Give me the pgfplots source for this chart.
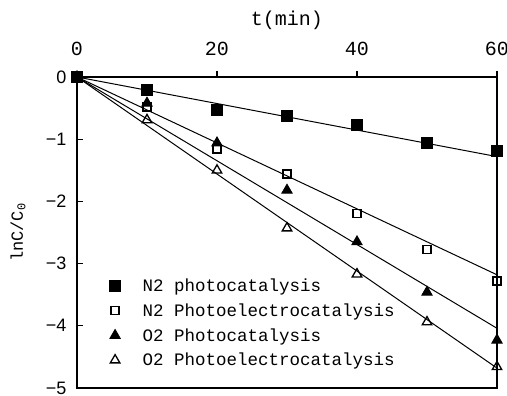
\documentclass[border=0pt]{standalone}
\usepackage{pgfplots}
\pgfplotsset{compat=1.18}
\usepackage{fontspec}
\newfontfamily\cour{Liberation Mono}
\newfontfamily\arial{Liberation Sans}
\begin{document}
\begin{tikzpicture}
\useasboundingbox (-77pt,-8pt) rectangle (430pt,388pt);
\begin{axis}[
  at={(0pt,0pt)}, anchor=south west,
  scale only axis, width=420pt, height=311pt,
  xmin=0, xmax=60, ymin=-5, ymax=0,
  xtick={0,20,40,60}, ytick={-5,-4,-3,-2,-1,0},
  yticklabels={−5,−4,−3,−2,−1,0},
  xtick pos=right, xticklabel pos=right,
  ytick pos=left, yticklabel pos=left,
  xtick align=outside, ytick align=inside,
  major tick length=6pt,
  axis line style={line width=1.6pt},
  every tick/.style={line width=1.2pt, black},
  /pgf/number format/assume math mode=true,
  xticklabel style={font=\cour\fontsize{20}{24}\selectfont, yshift=12pt},
  yticklabel style={font=\arial\fontsize{18}{22}\selectfont, xshift=-7pt},
  xlabel={t(min)},
  xlabel style={font=\cour\fontsize{20}{24}\selectfont, at={(axis description cs:0.5,1)}, anchor=center, yshift=57pt},
  ylabel={lnC/C\textsubscript{0}},
  ylabel style={font=\cour\fontsize{17}{20}\selectfont, at={(axis description cs:0,0.5)}, anchor=center, rotate=0, yshift=59pt},
  legend style={draw=none, fill=none, at={(axis cs:4.2,-3.18)}, anchor=north west,
    font=\cour\fontsize{17.5}{20}\selectfont, row sep=6.5pt,
    /tikz/every odd column/.append style={column sep=20pt}},
  legend cell align=left,
]
% fitted lines
\addplot[black, line width=1pt, forget plot] coordinates {(0,0) (60,-1.28)};
\addplot[black, line width=1pt, forget plot] coordinates {(0,0) (60,-3.18)};
\addplot[black, line width=1pt, forget plot] coordinates {(0,0) (60,-4.04)};
\addplot[black, line width=1pt, forget plot] coordinates {(0,0) (60,-4.68)};
% data
\addplot[only marks, mark=square*, mark size=5.5pt, mark options={fill=black, draw=black}]
  coordinates {(0,0) (10,-0.21) (20,-0.53) (30,-0.63) (40,-0.77) (50,-1.06) (60,-1.19)};
\addlegendentry{N2 photocatalysis}
\addplot[only marks, mark=square, mark size=4pt, mark options={fill=white, draw=black, line width=1.3pt}]
  coordinates {(0,0) (10,-0.48) (20,-1.16) (30,-1.56) (40,-2.19) (50,-2.77) (60,-3.28)};
\addlegendentry{N2 Photoelectrocatalysis}
\addplot[only marks, mark=triangle*, mark size=6pt, mark options={fill=black, draw=black, line width=0.8pt}]
  coordinates {(0,0) (10,-0.42) (20,-1.06) (30,-1.82) (40,-2.65) (50,-3.46) (60,-4.23)};
\addlegendentry{O2 Photocatalysis}
\addplot[only marks, mark=triangle, mark size=5.5pt, mark options={fill=white, draw=black, line width=1.3pt}]
  coordinates {(0,0) (10,-0.69) (20,-1.50) (30,-2.43) (40,-3.17) (50,-3.94) (60,-4.66)};
\addlegendentry{O2 Photoelectrocatalysis}
\end{axis}
\end{tikzpicture}
\end{document}
